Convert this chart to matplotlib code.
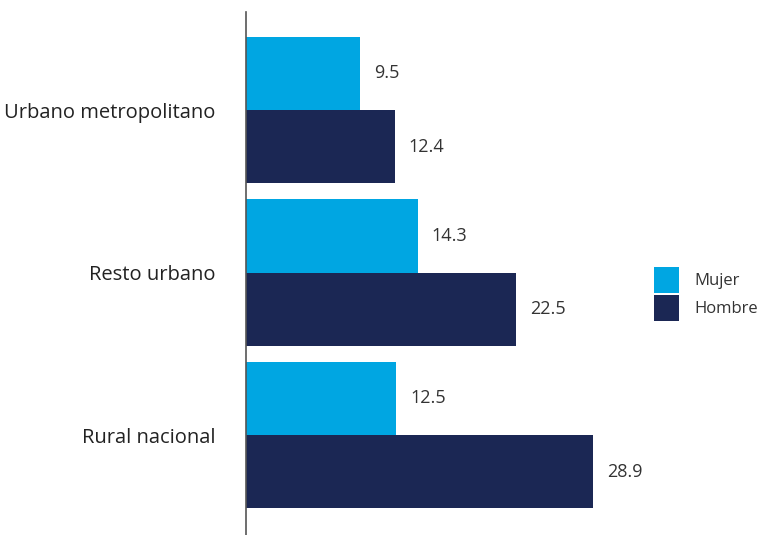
import matplotlib.pyplot as plt
from matplotlib import font_manager
import numpy as np

categorias = ['Urbano metropolitano', 'Resto urbano', 'Rural nacional']
mujer = [9.5, 14.3, 12.5]
hombre = [12.4, 22.5, 28.9]

# condensed-looking font if present
nombres = {f.name for f in font_manager.fontManager.ttflist}
fam = [n for n in ['Liberation Sans Narrow', 'Open Sans', 'DejaVu Sans'] if n in nombres]
plt.rcParams['font.family'] = fam

c_mujer = '#00A6E2'
c_hombre = '#1B2754'

fig = plt.figure(figsize=(7.61, 5.35), dpi=100)
ax = fig.add_axes([246/761, 0, 1 - 246/761, 1 - 12/535])

y = np.arange(len(categorias))
h = 0.45
b1 = ax.barh(y - h/2, mujer, height=h, color=c_mujer, label='Mujer')
b2 = ax.barh(y + h/2, hombre, height=h, color=c_hombre, label='Hombre')

for bars, vals in [(b1, mujer), (b2, hombre)]:
    for b, v in zip(bars, vals):
        ax.annotate(f'{v}', (v, b.get_y() + b.get_height()/2), xytext=(10, 0),
                    textcoords='offset points', va='center', ha='left',
                    fontsize=13, color='#333333')

ax.set_yticks(y)
ax.set_yticklabels(categorias, fontsize=14.5, color='#222222')
ax.tick_params(axis='y', length=0, pad=22)
ax.set_xticks([])
ax.set_xlim(0, 42.9)
ax.set_ylim(2.615, -0.603)
for s in ['top', 'right', 'bottom']:
    ax.spines[s].set_visible(False)
ax.spines['left'].set_color('#555555')
ax.spines['left'].set_linewidth(1.2)

leg = ax.legend(loc='center left', bbox_to_anchor=(0.763, 0.461), frameon=False,
                fontsize=12, handlelength=1.5, handleheight=2.05, handletextpad=0.9,
                labelspacing=0.1, labelcolor='#333333')

plt.savefig('out.png', dpi=100)
